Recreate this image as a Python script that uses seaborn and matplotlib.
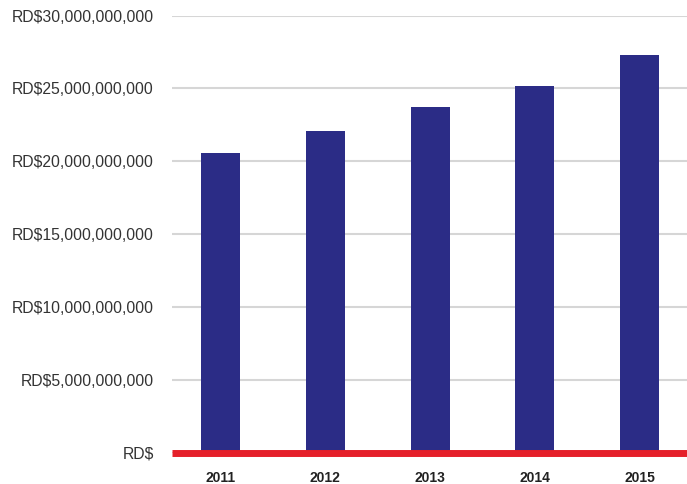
import matplotlib
matplotlib.use("Agg")
import matplotlib.pyplot as plt
import seaborn as sns
import pandas as pd
from matplotlib.ticker import FuncFormatter

years = ["2011", "2012", "2013", "2014", "2015"]
values = [20.6e9, 22.1e9, 23.7e9, 25.2e9, 27.3e9]
y_ticks = [0, 5e9, 10e9, 15e9, 20e9, 25e9, 30e9]

df = pd.DataFrame({"year": years, "value": values})

sns.set_theme(style="white")
plt.rcParams["font.family"] = ["Liberation Sans", "DejaVu Sans"]

fig = plt.figure(figsize=(6.87, 4.84), dpi=100)
ax = fig.add_axes([172 / 687, 31 / 484, 515 / 687, 437.5 / 484])

sns.barplot(data=df, x="year", y="value", color="#2b2c86", saturation=1,
            width=0.372, linewidth=0, ax=ax, zorder=3)

ax.set_xlim(-0.463, 4.453)
ax.set_ylim(0, 30e9)
ax.set_yticks(y_ticks)
ax.yaxis.set_major_formatter(FuncFormatter(
    lambda v, _: "RD$" if v == 0 else "RD${:,.0f}".format(v)))
ax.grid(axis="y", color="#d6d6d6", linewidth=1.5, zorder=0)
ax.grid(axis="x", visible=False)
ax.axhline(0, color="#e5202a", linewidth=5, zorder=4, clip_on=False,
           solid_capstyle="butt")

for s in ax.spines.values():
    s.set_visible(False)
ax.tick_params(axis="y", length=0, pad=13, labelsize=11.3, labelcolor="#333333")
ax.tick_params(axis="x", length=0, pad=13, labelsize=10, labelcolor="#222222")
for lbl in ax.get_xticklabels():
    lbl.set_fontweight("bold")
ax.set_xlabel("")
ax.set_ylabel("")

fig.savefig("out.png", dpi=100)
